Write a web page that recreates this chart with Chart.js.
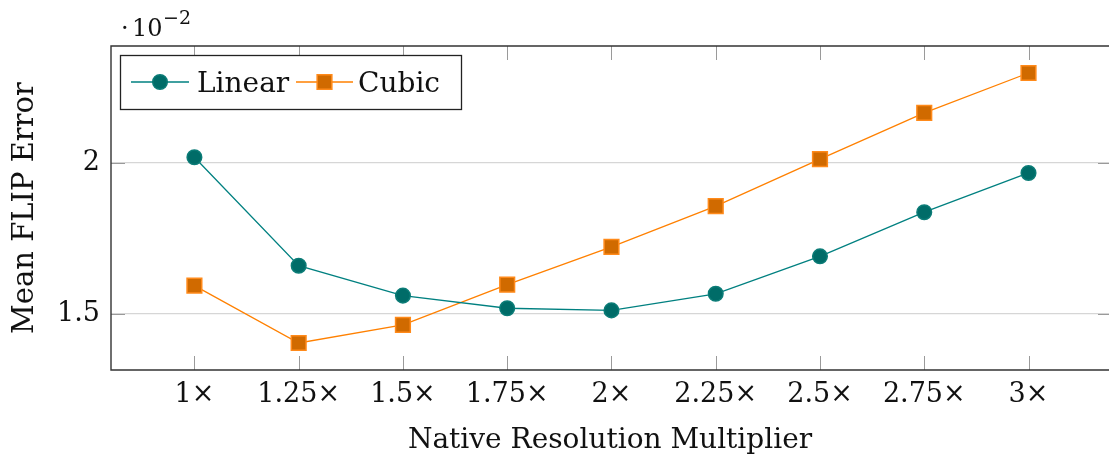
<!DOCTYPE html>
<html>
<head>
<meta charset="utf-8">
<script src="https://cdn.jsdelivr.net/npm/chart.js@4.4.0/dist/chart.umd.min.js"></script>
<style>
  html, body { margin: 0; padding: 0; background: #fff; overflow: hidden; }
  canvas { display: block; }
</style>
</head>
<body>
<canvas id="flipChart" width="1109" height="465"></canvas>
<script>
// error values are given in units of 10^-2
const multipliers = [1, 1.25, 1.5, 1.75, 2, 2.25, 2.5, 2.75, 3];
const linearError = [2.019, 1.660, 1.561, 1.519, 1.512, 1.567, 1.691, 1.837, 1.967];
const cubicError  = [1.594, 1.404, 1.464, 1.597, 1.722, 1.857, 2.013, 2.166, 2.298];
const xTicks = [1, 1.25, 1.5, 1.75, 2, 2.25, 2.5, 2.75, 3];
const yTicks = [1.5, 2];
const seriesNames = ['Linear', 'Cubic'];

const FONT = '"DejaVu Serif", serif';
const TEAL = { line: '#008080', fill: '#006c68', border: '#0b7c77' };
const ORANGE = { line: '#ff8000', fill: '#d06a00', border: '#ff8a1a' };

// pgfplots style axis: ticks pointing inwards + frame (right side is cut off by the picture edge)
const framePlugin = {
  id: 'frame',
  afterDatasetsDraw(chart) {
    const { ctx, chartArea: a, scales: { x, y } } = chart;
    const rightAxis = a.right + 3;
    ctx.save();
    ctx.strokeStyle = '#9a9a9a';
    ctx.lineWidth = 1;
    ctx.beginPath();
    xTicks.forEach(v => {
      const px = Math.round(x.getPixelForValue(v)) + 0.5;
      ctx.moveTo(px, a.top); ctx.lineTo(px, a.top + 14);
      ctx.moveTo(px, a.bottom - 14); ctx.lineTo(px, a.bottom);
    });
    yTicks.forEach(v => {
      const py = Math.round(y.getPixelForValue(v)) + 0.5;
      ctx.moveTo(a.left, py); ctx.lineTo(a.left + 14, py);
      ctx.moveTo(rightAxis - 14, py); ctx.lineTo(rightAxis, py);
    });
    ctx.stroke();
    ctx.strokeStyle = '#333';
    ctx.lineWidth = 1.4;
    ctx.beginPath();
    ctx.moveTo(a.right + 2, a.top);
    ctx.lineTo(a.left, a.top);
    ctx.lineTo(a.left, a.bottom);
    ctx.lineTo(a.right + 2, a.bottom);
    ctx.stroke();
    ctx.restore();
  },
  afterDraw(chart) {
    const ctx = chart.ctx;
    ctx.save();
    // legend box
    ctx.fillStyle = '#fff';
    ctx.fillRect(120, 55, 342, 54);
    ctx.strokeStyle = '#222';
    ctx.lineWidth = 1.3;
    ctx.strokeRect(120.5, 55.5, 341, 54);
    const items = [
      { name: seriesNames[0], c: TEAL, style: 'circle', r: 7.3, x0: 131, x1: 189, tx: 197 },
      { name: seriesNames[1], c: ORANGE, style: 'rect', r: 10.4, x0: 296, x1: 353, tx: 358 }
    ];
    items.forEach(it => {
      ctx.strokeStyle = it.c.line;
      ctx.lineWidth = 1.3;
      ctx.beginPath();
      ctx.moveTo(it.x0, 82); ctx.lineTo(it.x1, 82);
      ctx.stroke();
      ctx.fillStyle = it.c.fill;
      ctx.strokeStyle = it.c.border;
      ctx.lineWidth = 1.5;
      Chart.helpers.drawPoint(ctx, { pointStyle: it.style, radius: it.r, rotation: 0, borderWidth: 1.5 }, (it.x0 + it.x1) / 2, 82);
      ctx.fillStyle = '#111';
      ctx.font = '28px ' + FONT;
      ctx.textBaseline = 'alphabetic';
      ctx.fillText(it.name, it.tx, 92);
    });
    // scale factor above the y axis
    ctx.fillStyle = '#111';
    ctx.font = '24px ' + FONT;
    ctx.fillText('·', 121, 36);
    ctx.fillText('10', 132, 36);
    ctx.font = '19px ' + FONT;
    ctx.fillText('−2', 163, 24);
    ctx.restore();
  }
};

const data = {
  datasets: [
    {
      label: seriesNames[0],
      data: multipliers.map((m, i) => ({ x: m, y: linearError[i] })),
      borderColor: TEAL.line,
      borderWidth: 1.3,
      pointStyle: 'circle',
      pointRadius: 7.3,
      pointBackgroundColor: TEAL.fill,
      pointBorderColor: TEAL.border,
      pointBorderWidth: 1.5,
      tension: 0
    },
    {
      label: seriesNames[1],
      data: multipliers.map((m, i) => ({ x: m, y: cubicError[i] })),
      borderColor: ORANGE.line,
      borderWidth: 1.3,
      pointStyle: 'rect',
      pointRadius: 10.4,
      pointBackgroundColor: ORANGE.fill,
      pointBorderColor: ORANGE.border,
      pointBorderWidth: 1.5,
      tension: 0
    }
  ]
};

const config = {
  type: 'line',
  data: data,
  options: {
    responsive: false,
    animation: false,
    layout: { autoPadding: false, padding: { top: 46, right: 0, left: 0, bottom: 0 } },
    plugins: {
      legend: { display: false },
      tooltip: { enabled: false }
    },
    scales: {
      x: {
        type: 'linear',
        min: 0.8,
        max: 3.193,   // the original axis runs to 3.2, cut by the picture edge
        afterBuildTicks: s => { s.ticks = xTicks.map(v => ({ value: v })); },
        afterFit: s => { s.height = 95; s.paddingLeft = 0; s.paddingRight = 0; },
        grid: { display: false, drawTicks: false },
        border: { display: false },
        ticks: {
          color: '#111',
          font: { family: FONT, size: 27 },
          padding: 9,
          maxRotation: 0,
          autoSkip: false,
          callback: v => v + '×'
        },
        title: {
          display: true,
          text: 'Native Resolution Multiplier',
          color: '#111',
          font: { family: FONT, size: 28 },
          padding: { top: 0, bottom: 7 }
        }
      },
      y: {
        min: 1.3146,
        max: 2.3874,
        afterBuildTicks: s => { s.ticks = yTicks.map(v => ({ value: v })); },
        afterFit: s => { s.width = 111; },
        grid: { color: '#d6d6d6', lineWidth: 1.2, drawTicks: false },
        border: { display: false },
        ticks: {
          color: '#111',
          font: { family: FONT, size: 27 },
          padding: 11,
          callback: v => String(v)
        },
        title: {
          display: true,
          text: 'Mean FLIP Error',
          color: '#111',
          font: { family: FONT, size: 29 },
          padding: { top: 8, bottom: 0 }
        }
      }
    }
  },
  plugins: [framePlugin]
};

new Chart(document.getElementById('flipChart'), config);
</script>
</body>
</html>
